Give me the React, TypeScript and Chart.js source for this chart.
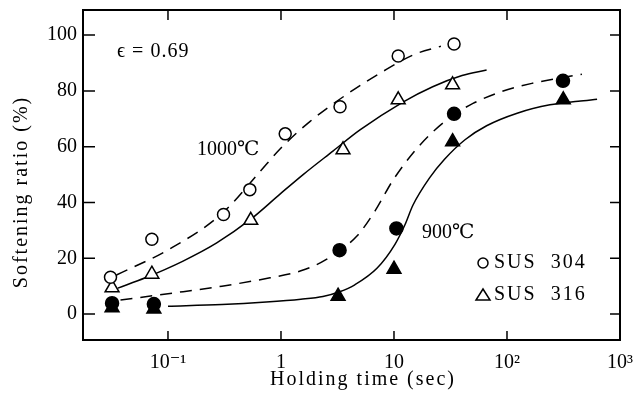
import React, { useEffect, useRef } from 'react';
import { Chart, registerables } from 'chart.js';

Chart.register(...registerables);

// ---- axis ticks ----
const xTickValues = [0.1, 1, 10, 100, 1000];
const xTickLabels = ['10⁻¹', '1', '10', '10²', '10³'];
const yTickValues = [0, 20, 40, 60, 80, 100];

// ---- measured points ----
// SUS 304 at 1000 C (open circles)
const sus304_1000_x = [0.031, 0.072, 0.31, 0.53, 1.09, 3.33, 10.9, 34];
const sus304_1000_y = [13.2, 26.8, 35.7, 44.6, 64.6, 74.3, 92.5, 96.8];
// SUS 316 at 1000 C (open triangles)
const sus316_1000_x = [0.032, 0.072, 0.54, 3.54, 10.9, 33];
const sus316_1000_y = [9.4, 14.3, 33.6, 58.9, 76.8, 82.2];
// SUS 304 at 900 C (filled circles)
const sus304_900_x = [0.032, 0.075, 3.3, 10.5, 34, 313];
const sus304_900_y = [3.9, 3.6, 22.9, 30.7, 71.8, 83.6];
// SUS 316 at 900 C (filled triangles)
const sus316_900_x = [0.032, 0.075, 3.2, 10, 33, 315];
const sus316_900_y = [2.3, 1.8, 6.4, 16.1, 61.8, 76.8];

// ---- fitted curves ----
const curve304_1000_x = [0.035, 0.1, 0.3, 0.65, 1.0, 1.8, 3.9, 8, 15, 26];
const curve304_1000_y = [14, 23, 36, 51, 59.5, 69, 79, 87, 93, 96];
const curve316_1000_x = [0.036, 0.063, 0.136, 0.27, 0.54, 0.98, 1.57, 2.9, 5, 12, 22, 40, 66];
const curve316_1000_y = [9.3, 13, 19, 25.5, 34, 43, 50, 58.5, 66, 76, 81.5, 85.5, 87.5];
const curve304_900_x = [0.038, 0.1, 0.3, 0.8, 1.5, 2.5, 4.7, 6.8, 9.8, 15.3, 23, 34, 50, 90, 166, 300, 460];
const curve304_900_y = [5, 7.3, 10, 13, 15.5, 19.5, 28, 37, 48, 58.5, 66, 71.5, 75.5, 79.8, 82.7, 84.7, 86];
const curve316_900_x = [0.1, 0.3, 0.74, 1.5, 2.35, 3.3, 4.5, 7.1, 10.2, 12.5, 14.7, 20.8, 28, 42.5, 66, 123, 240, 427, 627];
const curve316_900_y = [2.8, 3.4, 4.3, 5.3, 6.3, 8, 10.5, 16.5, 25, 32, 39, 49, 55.5, 62.5, 67.5, 72, 75, 76.3, 77];

const pts = (xs: number[], ys: number[]) => xs.map((x, i) => ({ x, y: ys[i] }));

const FONT = "'Liberation Serif', 'DejaVu Serif', 'Noto Sans CJK JP', serif";

const overlay = {
  id: 'overlay',
  afterDatasetsDraw(chart: any) {
    const { ctx, chartArea: a, scales } = chart;
    ctx.save();
    ctx.strokeStyle = '#000';
    ctx.lineWidth = 2;
    ctx.strokeRect(a.left, a.top, a.right - a.left, a.bottom - a.top);
    ctx.lineWidth = 1.5;
    ctx.beginPath();
    xTickValues.slice(0, 4).forEach((v) => {
      const px = scales.x.getPixelForValue(v);
      ctx.moveTo(px, a.bottom);
      ctx.lineTo(px, a.bottom - 9);
      ctx.moveTo(px, a.top);
      ctx.lineTo(px, a.top + 10);
    });
    yTickValues.forEach((v) => {
      const py = scales.y.getPixelForValue(v);
      ctx.moveTo(a.left, py);
      ctx.lineTo(a.left + 12, py);
      ctx.moveTo(a.right, py);
      ctx.lineTo(a.right - 10, py);
    });
    ctx.stroke();

    ctx.fillStyle = '#000';
    ctx.textBaseline = 'middle';
    // axis titles
    ctx.font = `20px ${FONT}`;
    (ctx as any).letterSpacing = '2px';
    ctx.textAlign = 'center';
    ctx.fillText('Holding time (sec)', 363, 380);
    ctx.save();
    ctx.translate(22, 192);
    ctx.rotate(-Math.PI / 2);
    ctx.fillText('Softening ratio (%)', 0, 0);
    ctx.restore();

    // annotations
    ctx.textAlign = 'left';
    (ctx as any).letterSpacing = '1px';
    ctx.fillText('ϵ = 0.69', 117, 52);
    (ctx as any).letterSpacing = '0px';
    ctx.fillText('1000℃', 197, 150);
    ctx.fillText('900℃', 422, 233);

    // legend
    ctx.lineWidth = 1.5;
    ctx.beginPath();
    ctx.arc(483, 263, 5, 0, Math.PI * 2);
    ctx.stroke();
    ctx.beginPath();
    ctx.moveTo(483, 289);
    ctx.lineTo(490, 300);
    ctx.lineTo(476, 300);
    ctx.closePath();
    ctx.stroke();
    (ctx as any).letterSpacing = '2px';
    ctx.fillText('SUS  304', 494, 263);
    ctx.fillText('SUS  316', 494, 295);
    ctx.restore();
  },
};

export default function App() {
  const ref = useRef<HTMLCanvasElement>(null);

  useEffect(() => {
    if (!ref.current) return;
    const pointDs = (xs: number[], ys: number[], style: string, filled: boolean, r: number) => ({
      data: pts(xs, ys),
      showLine: false,
      pointStyle: style,
      pointRadius: r,
      pointBackgroundColor: filled ? '#000' : '#fff',
      pointBorderColor: '#000',
      pointBorderWidth: 1.5,
    });
    const curveDs = (xs: number[], ys: number[], dashed: boolean) => ({
      data: pts(xs, ys),
      showLine: true,
      pointRadius: 0,
      borderColor: '#000',
      borderWidth: 1.5,
      borderDash: dashed ? [12, 8] : [],
      cubicInterpolationMode: 'monotone',
      fill: false,
    });
    const chart = new Chart(ref.current, {
      type: 'scatter',
      data: {
        datasets: [
          pointDs(sus304_900_x, sus304_900_y, 'circle', true, 6.5),
          pointDs(sus316_900_x, sus316_900_y, 'triangle', true, 8),
          pointDs(sus304_1000_x, sus304_1000_y, 'circle', false, 6),
          pointDs(sus316_1000_x, sus316_1000_y, 'triangle', false, 8),
          curveDs(curve304_1000_x, curve304_1000_y, true),
          curveDs(curve316_1000_x, curve316_1000_y, false),
          curveDs(curve304_900_x, curve304_900_y, true),
          curveDs(curve316_900_x, curve316_900_y, false),
        ] as any,
      },
      options: {
        animation: false,
        responsive: false,
        layout: { padding: { top: 10, right: 15, left: 0, bottom: 0 } },
        plugins: { legend: { display: false }, tooltip: { enabled: false } },
        scales: {
          x: {
            type: 'logarithmic',
            min: 0.0177,
            max: 1000,
            afterBuildTicks: (s: any) => {
              s.ticks = xTickValues.map((v) => ({ value: v }));
            },
            afterFit: (s: any) => {
              s.height = 59;
              s.paddingLeft = 0;
              s.paddingRight = 0;
            },
            ticks: {
              autoSkip: false,
              maxRotation: 0,
              padding: 11,
              color: '#000',
              font: { family: FONT, size: 20 },
              callback: (_v: any, i: number) => xTickLabels[i],
            },
            grid: { display: false, drawTicks: false },
            border: { display: false },
          },
          y: {
            type: 'linear',
            min: -9.3,
            max: 109,
            afterBuildTicks: (s: any) => {
              s.ticks = yTickValues.map((v) => ({ value: v }));
            },
            afterFit: (s: any) => {
              s.width = 83;
              s.paddingTop = 0;
              s.paddingBottom = 0;
            },
            ticks: {
              padding: 6,
              color: '#000',
              font: { family: FONT, size: 20 },
              callback: (v: any) => String(v),
            },
            grid: { display: false, drawTicks: false },
            border: { display: false },
          },
        },
      } as any,
      plugins: [overlay],
    });
    return () => chart.destroy();
  }, []);

  return (
    <div style={{ position: 'absolute', left: 0, top: 0, width: 635, height: 399, background: '#fff' }}>
      <canvas ref={ref} width={635} height={399} style={{ display: 'block' }} />
    </div>
  );
}
